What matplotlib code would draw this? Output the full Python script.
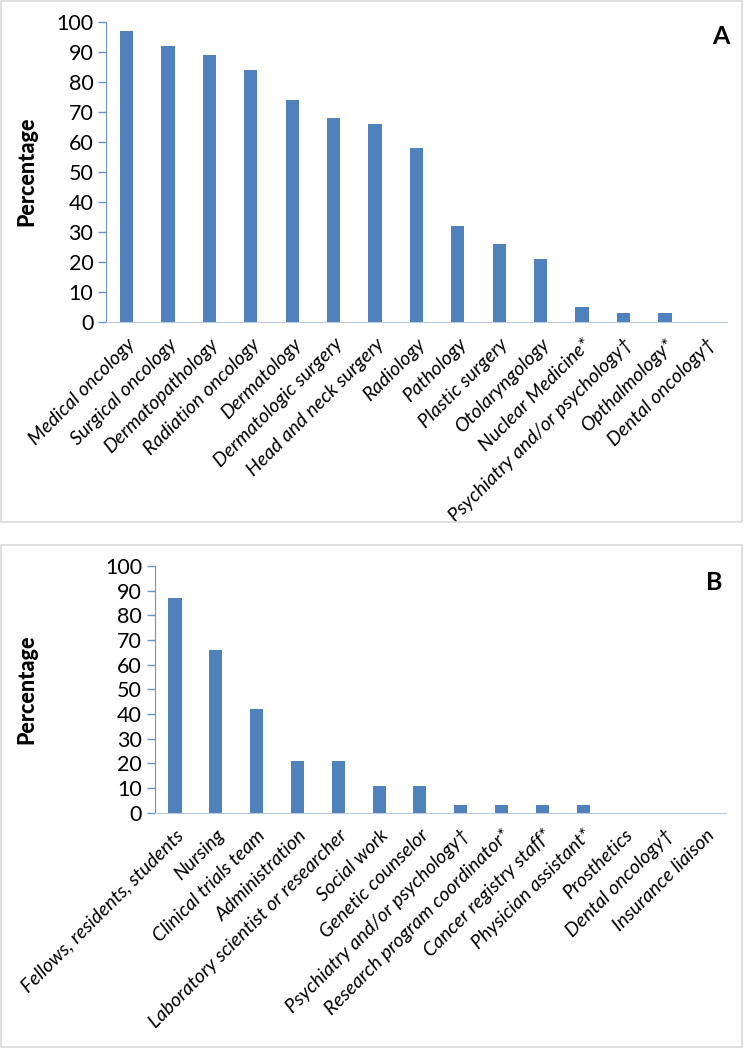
import matplotlib
matplotlib.use("Agg")
import matplotlib.pyplot as plt
from matplotlib.patches import Rectangle

# Panel A: physician specialties
cats_a = ["Medical oncology", "Surgical oncology", "Dermatopathology",
          "Radiation oncology", "Dermatology", "Dermatologic surgery",
          "Head and neck surgery", "Radiology", "Pathology", "Plastic surgery",
          "Otolaryngology", "Nuclear Medicine*", "Psychiatry and/or psychology\u2020",
          "Opthalmology*", "Dental oncology\u2020"]
vals_a = [97, 92, 89, 84, 74, 68, 66, 58, 32, 26, 21, 5, 3, 3, 0]

# Panel B: other team members
cats_b = ["Fellows, residents, students", "Nursing", "Clinical trials team",
          "Administration", "Laboratory scientist or researcher", "Social work",
          "Genetic counselor", "Psychiatry and/or psychology\u2020",
          "Research program coordinator*", "Cancer registry staff*",
          "Physician assistant*", "Prosthetics", "Dental oncology\u2020",
          "Insurance liaison"]
vals_b = [87, 66, 42, 21, 21, 11, 11, 3, 3, 3, 3, 0, 0, 0]

yticks = list(range(0, 101, 10))

W, H = 744, 1050
fig = plt.figure(figsize=(W / 100, H / 100), dpi=100)
plt.rcParams['font.family'] = ['Lato', 'DejaVu Sans']

bar_color = "#4F81BD"
yax_color = "#6F93C6"
xax_color = "#B9C9E0"


def px_axes(x0, x1, ytop, ybot):
    return fig.add_axes([x0 / W, 1 - ybot / H, (x1 - x0) / W, (ybot - ytop) / H])


def draw_panel(ax, cats, vals, letter, letter_xy):
    x = list(range(len(cats)))
    ax.bar(x, vals, width=0.32, color=bar_color)
    ax.set_xlim(-0.5, len(cats) - 0.5)
    ax.set_ylim(0, 100)
    ax.set_yticks(yticks)
    ax.set_yticklabels([str(v) for v in yticks], fontsize=15.5)
    ax.set_xticks(x)
    ax.set_xticklabels(cats, rotation=45, ha="right", va="top",
                       rotation_mode="anchor", fontsize=14, style="italic")
    ax.tick_params(axis="x", length=0, pad=10)
    ax.tick_params(axis="y", length=6, width=1, color=yax_color, pad=3)
    for s in ["top", "right"]:
        ax.spines[s].set_visible(False)
    ax.spines["left"].set_color(yax_color)
    ax.spines["bottom"].set_color(xax_color)
    ax.set_ylabel("Percentage", fontsize=15.5, fontweight="black")
    fig.text(letter_xy[0] / W, 1 - letter_xy[1] / H, letter, fontsize=18,
             fontweight="bold", ha="center", va="center")


ax_a = px_axes(105.8, 727, 21.7, 321.7)
draw_panel(ax_a, cats_a, vals_a, "A", (721, 36))
ax_a.yaxis.set_label_coords(-68 / 621, 0.5)

ax_b = px_axes(154.6, 726, 566, 812.7)
draw_panel(ax_b, cats_b, vals_b, "B", (714, 583))
ax_b.yaxis.set_label_coords(-117 / 571, 0.5)

# light grey frames around each panel
for (y0, y1) in [(1, 522), (545, 1047)]:
    fig.patches.append(Rectangle((1 / W, 1 - y1 / H), 741 / W, (y1 - y0) / H,
                                 transform=fig.transFigure, fill=False,
                                 edgecolor="#D9D9D9", linewidth=1.2))

fig.savefig("out.png", dpi=100)
